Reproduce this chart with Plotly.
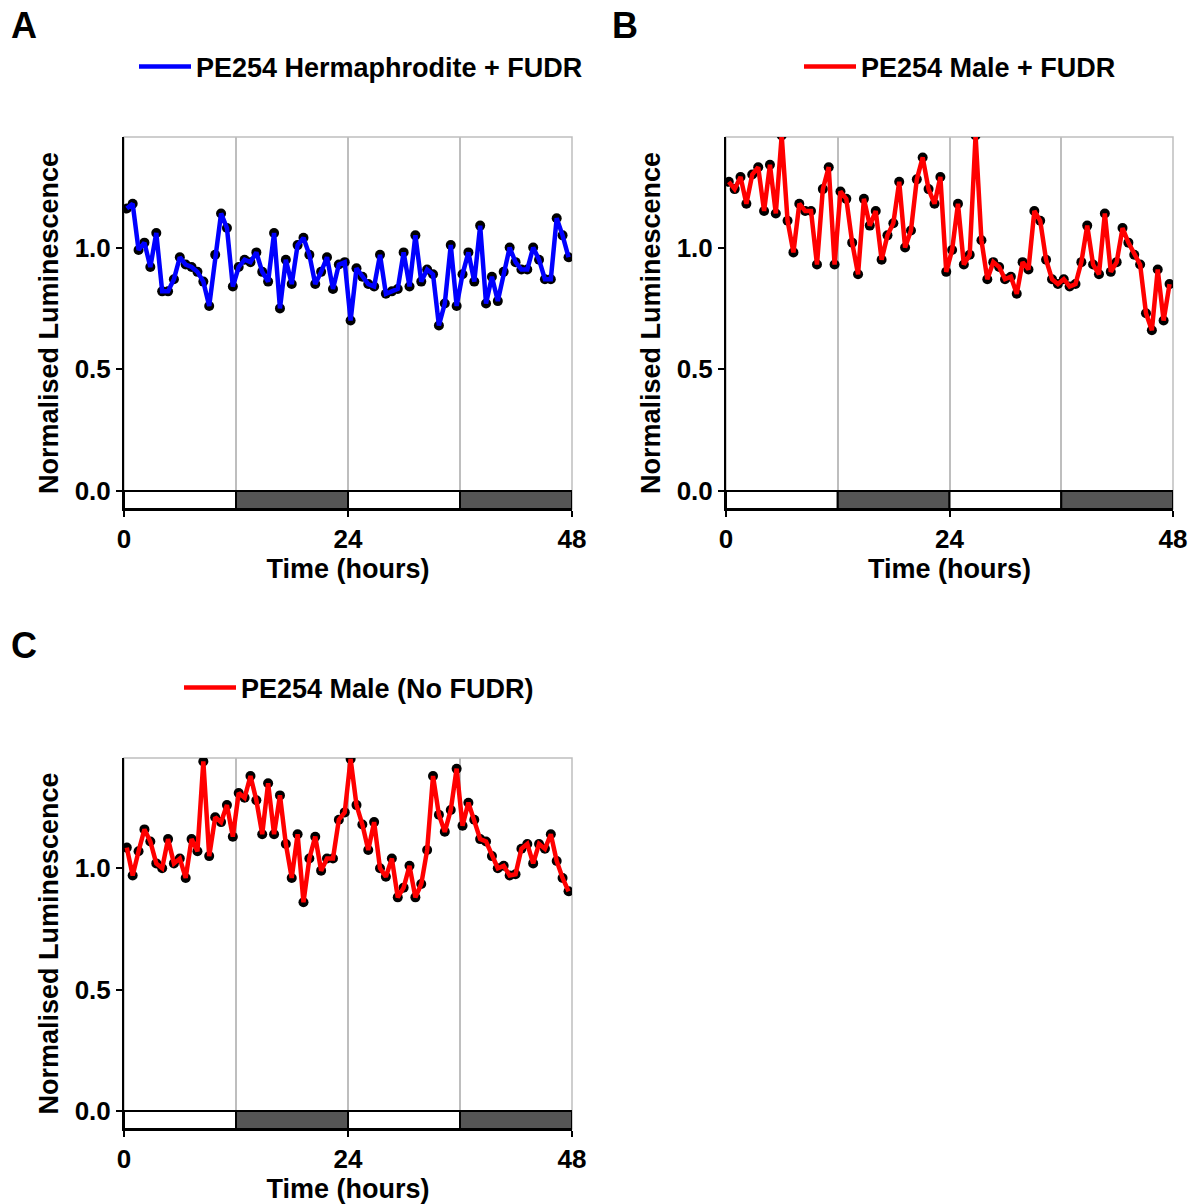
import plotly.graph_objects as go

# ---------------- data ----------------
TIME_H = [0.30, 0.93, 1.56, 2.19, 2.82, 3.46, 4.09, 4.72, 5.35, 5.98,
          6.61, 7.24, 7.87, 8.50, 9.13, 9.77, 10.40, 11.03, 11.66, 12.29,
          12.92, 13.55, 14.18, 14.81, 15.44, 16.08, 16.71, 17.34, 17.97, 18.60,
          19.23, 19.86, 20.49, 21.12, 21.75, 22.39, 23.02, 23.65, 24.28, 24.91,
          25.54, 26.17, 26.80, 27.43, 28.06, 28.70, 29.33, 29.96, 30.59, 31.22,
          31.85, 32.48, 33.11, 33.74, 34.37, 35.01, 35.64, 36.27, 36.90, 37.53,
          38.16, 38.79, 39.42, 40.05, 40.68, 41.32, 41.95, 42.58, 43.21, 43.84,
          44.47, 45.10, 45.73, 46.36, 46.99, 47.63]

HERM_FUDR = [1.16, 1.18, 0.99, 1.02, 0.92, 1.06, 0.82, 0.82, 0.87, 0.96,
             0.93, 0.92, 0.90, 0.86, 0.76, 0.97, 1.14, 1.08, 0.84, 0.92,
             0.95, 0.94, 0.98, 0.90, 0.86, 1.06, 0.75, 0.95, 0.85, 1.01,
             1.04, 0.97, 0.85, 0.90, 0.96, 0.83, 0.93, 0.94, 0.70, 0.915,
             0.88, 0.85, 0.84, 0.97, 0.81, 0.82, 0.83, 0.98, 0.84, 1.05,
             0.86, 0.91, 0.89, 0.68, 0.77, 1.01, 0.76, 0.89, 0.98, 0.86,
             1.09, 0.77, 0.88, 0.78, 0.90, 1.00, 0.94, 0.91, 0.91, 1.00,
             0.95, 0.87, 0.87, 1.12, 1.05, 0.96]

MALE_FUDR = [1.27, 1.24, 1.29, 1.18, 1.30, 1.33, 1.15, 1.34, 1.14, 1.46,
             1.11, 0.98, 1.18, 1.15, 1.15, 0.93, 1.24, 1.33, 0.93, 1.23,
             1.20, 1.02, 0.89, 1.20, 1.09, 1.15, 0.95, 1.05, 1.10, 1.27,
             1.00, 1.07, 1.28, 1.37, 1.24, 1.18, 1.29, 0.90, 0.99, 1.18,
             0.93, 0.97, 1.46, 1.03, 0.87, 0.94, 0.92, 0.87, 0.88, 0.81,
             0.94, 0.91, 1.15, 1.11, 0.95, 0.87, 0.85, 0.87, 0.84, 0.85,
             0.94, 1.09, 0.93, 0.89, 1.14, 0.90, 0.94, 1.08, 1.02, 0.97,
             0.93, 0.73, 0.66, 0.91, 0.70, 0.85]

MALE_NO_FUDR = [1.085, 0.97, 1.07, 1.16, 1.11, 1.02, 1.00, 1.12, 1.02, 1.04,
                0.96, 1.12, 1.07, 1.44, 1.05, 1.21, 1.19, 1.26, 1.13, 1.31,
                1.29, 1.38, 1.28, 1.14, 1.35, 1.14, 1.30, 1.10, 0.96, 1.14,
                0.86, 1.04, 1.13, 0.99, 1.04, 1.04, 1.20, 1.23, 1.45, 1.26,
                1.18, 1.075, 1.19, 1.00, 0.965, 1.04, 0.88, 0.92, 1.01, 0.88,
                0.935, 1.075, 1.38, 1.22, 1.15, 1.24, 1.41, 1.175, 1.27, 1.20,
                1.12, 1.11, 1.05, 1.00, 1.01, 0.97, 0.975, 1.08, 1.10, 1.02,
                1.10, 1.08, 1.14, 1.03, 0.96, 0.905]

SERIES_NAMES = ["PE254 Hermaphrodite + FUDR", "PE254 Male + FUDR", "PE254 Male (No FUDR)"]
PANEL_LETTERS = ["A", "B", "C"]

LD_START = [0, 12, 24, 36]
LD_END = [12, 24, 36, 48]
LD_PHASE = ["light", "dark", "light", "dark"]

X_TICKS = [0, 24, 48]
Y_TICKS = [0.0, 0.5, 1.0]
Y_TICK_TEXT = ["0.0", "0.5", "1.0"]

# ---------------- style ----------------
W, H = 1196, 1204
FONT = "Liberation Sans, Arial, sans-serif"
COLORS = ["#0000FF", "#FF0000", "#FF0000"]
GRID = "#BEBEBE"
DARK = "#555555"
Y_MIN, Y_MAX = -0.074, 1.454


def px_x(p):
    return p / W


def px_y(p):
    return 1 - p / H


# plot areas in pixels: (left, right, top, bottom)
AREAS = [(124, 572, 137, 509), (726, 1173, 137, 509), (124, 572, 758, 1129)]
LEGEND_POS = [(134, 67), (799, 67), (179, 688)]
LETTER_POS = [(24, 25), (625, 25), (24, 645)]

fig = go.Figure()
series = [HERM_FUDR, MALE_FUDR, MALE_NO_FUDR]
legend_ids = ["legend", "legend2", "legend3"]

layout_updates = {}
shapes = []
annotations = []

for i, vals in enumerate(series):
    sfx = "" if i == 0 else str(i + 1)
    xa, ya = "x" + sfx, "y" + sfx
    # markers (below line)
    fig.add_trace(go.Scatter(x=TIME_H, y=vals, mode="markers", xaxis=xa, yaxis=ya,
                             marker=dict(color="black", size=10), showlegend=False,
                             hoverinfo="skip"))
    fig.add_trace(go.Scatter(x=TIME_H, y=vals, mode="lines", xaxis=xa, yaxis=ya,
                             line=dict(color=COLORS[i], width=4.5),
                             name=SERIES_NAMES[i], legend=legend_ids[i], showlegend=True))
    l, r, t, b = AREAS[i]
    layout_updates["xaxis" + sfx] = dict(
        domain=[px_x(l), px_x(r)], range=[0, 48], anchor=ya,
        tickvals=X_TICKS, ticks="outside", ticklen=6, tickwidth=2, tickcolor="black",
        showline=True, linecolor="black", linewidth=2,
        showgrid=True, gridcolor=GRID, gridwidth=2, zeroline=False,
        minor=dict(tickvals=[12, 36], showgrid=True, gridcolor=GRID, gridwidth=2, ticks=""),
        tickfont=dict(family=FONT, size=26, color="black", weight="bold"),
        title=dict(text="Time (hours)", standoff=6,
                   font=dict(family=FONT, size=27, color="black", weight="bold")),
    )
    layout_updates["yaxis" + sfx] = dict(
        domain=[px_y(b), px_y(t)], range=[Y_MIN, Y_MAX], anchor=xa,
        tickvals=Y_TICKS, ticktext=Y_TICK_TEXT, ticks="outside", ticklen=6, tickwidth=2,
        tickcolor="black", showline=True, linecolor="black", linewidth=2,
        showgrid=False, zeroline=False,
        tickfont=dict(family=FONT, size=26, color="black", weight="bold"),
        title=dict(text="Normalised Luminescence", standoff=8,
                   font=dict(family=FONT, size=27, color="black", weight="bold")),
    )
    # panel border (top/right in light grey)
    shapes.append(dict(type="rect", xref=xa + " domain", yref=ya + " domain",
                       x0=0, x1=1, y0=0, y1=1, line=dict(color=GRID, width=1.5),
                       layer="below"))
    # light/dark bar
    for s, e, ph in zip(LD_START, LD_END, LD_PHASE):
        shapes.append(dict(type="rect", xref=xa, yref=ya, x0=s, x1=e, y0=Y_MIN, y1=0,
                           fillcolor="white" if ph == "light" else DARK,
                           line=dict(color="black", width=2), layer="above"))
    lx, ly = LEGEND_POS[i]
    layout_updates[legend_ids[i]] = dict(
        x=px_x(lx), y=px_y(ly), xanchor="left", yanchor="middle",
        orientation="h", bgcolor="rgba(0,0,0,0)", itemwidth=52,
        font=dict(family=FONT, size=27, color="black", weight="bold"))
    cx, cy = LETTER_POS[i]
    annotations.append(dict(text=PANEL_LETTERS[i], x=px_x(cx), y=px_y(cy),
                            xref="paper", yref="paper", showarrow=False,
                            xanchor="center", yanchor="middle",
                            font=dict(family=FONT, size=36, color="black", weight="bold")))

fig.update_layout(
    width=W, height=H, margin=dict(l=0, r=0, t=0, b=0, autoexpand=False),
    paper_bgcolor="white", plot_bgcolor="white",
    shapes=shapes, annotations=annotations, **layout_updates,
)

fig.write_html("out.html")
